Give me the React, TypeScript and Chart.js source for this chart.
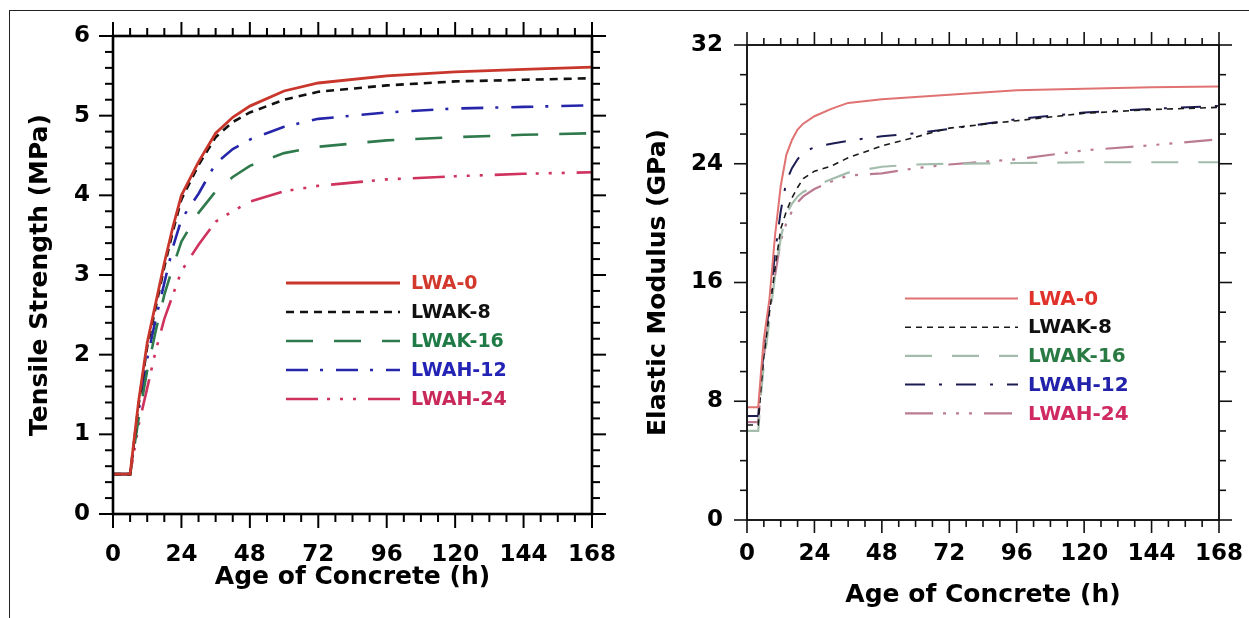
import React, { useEffect, useRef } from "react";
import { Chart, registerables } from "chart.js";

Chart.register(...registerables);

// ---------- DATA ----------
const seriesNames = ["LWA-0", "LWAK-8", "LWAK-16", "LWAH-12", "LWAH-24"];

const hourTicks = [0, 24, 48, 72, 96, 120, 144, 168];
const tensileTicks = [0, 1, 2, 3, 4, 5, 6];
const modulusTicks = [0, 8, 16, 24, 32];

// Tensile strength (MPa) vs age (h)
const tensileHours = [0, 6, 9, 12, 15, 18, 21, 24, 30, 36, 42, 48, 60, 72, 96, 120, 144, 168];
const tensileLWA0 = [0.5, 0.5, 1.42, 2.15, 2.65, 3.15, 3.6, 4.0, 4.42, 4.78, 4.98, 5.12, 5.31, 5.41, 5.5, 5.55, 5.58, 5.61];
const tensileLWAK8 = [0.5, 0.5, 1.38, 2.1, 2.6, 3.1, 3.55, 3.95, 4.38, 4.73, 4.92, 5.04, 5.2, 5.3, 5.38, 5.43, 5.45, 5.47];
const tensileLWAK16 = [0.5, 0.5, 1.2, 1.8, 2.3, 2.75, 3.1, 3.42, 3.78, 4.05, 4.23, 4.37, 4.53, 4.61, 4.69, 4.73, 4.76, 4.78];
const tensileLWAH12 = [0.5, 0.5, 1.3, 1.95, 2.45, 2.9, 3.35, 3.7, 4.02, 4.4, 4.58, 4.7, 4.86, 4.96, 5.04, 5.09, 5.11, 5.13];
const tensileLWAH24 = [0.5, 0.5, 1.12, 1.58, 2.05, 2.45, 2.75, 3.05, 3.38, 3.67, 3.8, 3.92, 4.05, 4.12, 4.2, 4.24, 4.27, 4.29];

// Elastic modulus (GPa) vs age (h)
const modulusHours = [0, 4, 5, 6, 8, 10, 12, 14, 16, 18, 20, 24, 30, 36, 48, 60, 72, 96, 120, 144, 168];
const modulusLWA0 = [7.6, 7.6, 10.0, 12.2, 14.9, 19.2, 22.5, 24.6, 25.6, 26.3, 26.7, 27.2, 27.7, 28.1, 28.35, 28.5, 28.65, 28.95, 29.05, 29.15, 29.2];
const modulusLWAK8 = [6.4, 6.4, 9.0, 11.0, 14.0, 17.0, 19.6, 20.8, 21.7, 22.4, 23.0, 23.5, 23.85, 24.4, 25.2, 25.8, 26.4, 26.9, 27.4, 27.65, 27.8];
const modulusLWAK16 = [6.0, 6.0, 8.5, 10.5, 13.5, 16.5, 19.0, 20.6, 21.3, 21.8, 22.1, 22.5, 22.95, 23.4, 23.8, 23.95, 24.0, 24.05, 24.1, 24.1, 24.1];
const modulusLWAH12 = [7.0, 7.0, 9.5, 11.5, 14.5, 18.0, 20.8, 22.8, 23.7, 24.3, 24.8, 25.1, 25.35, 25.55, 25.85, 26.05, 26.35, 27.0, 27.45, 27.7, 27.9];
const modulusLWAH24 = [6.6, 6.6, 9.0, 11.0, 14.0, 16.5, 18.8, 20.0, 20.8, 21.4, 21.8, 22.3, 22.8, 23.2, 23.35, 23.7, 23.95, 24.3, 24.9, 25.25, 25.65];

// ---------- STYLES ----------
const FONT = "'DejaVu Sans', 'Liberation Sans', sans-serif";

const tensileStyles = [
  { color: "#c8362c", width: 2.8, dash: [] as number[] },
  { color: "#111111", width: 2.6, dash: [8, 6] },
  { color: "#2f7a4c", width: 2.6, dash: [27, 21] },
  { color: "#2626aa", width: 2.6, dash: [22, 12, 3, 13] },
  { color: "#d0325e", width: 2.6, dash: [32, 9, 3, 10, 3, 10, 3, 12] },
];
const tensileTextColors = ["#d2392c", "#111111", "#1f7a45", "#2323b5", "#c8285a"];

const modulusStyles = [
  { color: "#e07272", width: 2, dash: [] as number[] },
  { color: "#1a1a1a", width: 1.6, dash: [6, 5] },
  { color: "#a3bcac", width: 2.2, dash: [27, 20] },
  { color: "#1c1c52", width: 2, dash: [20, 14, 3, 14] },
  { color: "#ba7a92", width: 2.2, dash: [28, 10, 3, 10, 3, 10, 3, 12] },
];
const modulusTextColors = ["#e0322a", "#111111", "#2a7a44", "#2222aa", "#d02a62"];

// ---------- PLUGIN: frame, ticks on all sides, inner legend ----------
const frameLegendPlugin = {
  id: "frameLegend",
  afterDatasetsDraw(chart: any, _args: any, opts: any) {
    const { ctx, chartArea: a, scales } = chart;
    const xs = scales.x;
    const ys = scales.y;
    const line = (x1: number, y1: number, x2: number, y2: number) => {
      ctx.beginPath();
      ctx.moveTo(x1, y1);
      ctx.lineTo(x2, y2);
      ctx.stroke();
    };
    ctx.save();
    ctx.strokeStyle = opts.color;
    ctx.setLineDash([]);
    ctx.lineCap = "butt";
    ctx.lineWidth = opts.tickWidth;
    const nx = Math.round((xs.max - xs.min) / opts.xMinor);
    for (let i = 0; i <= nx; i++) {
      const v = xs.min + i * opts.xMinor;
      const len = i % opts.xRatio === 0 ? opts.majorLen : opts.minorLen;
      const px = xs.getPixelForValue(v);
      line(px, a.top, px, a.top - len);
      line(px, a.bottom, px, a.bottom + len);
    }
    const ny = Math.round((ys.max - ys.min) / opts.yMinor);
    for (let i = 0; i <= ny; i++) {
      const v = ys.min + i * opts.yMinor;
      const len = i % opts.yRatio === 0 ? opts.majorLen : opts.minorLen;
      const py = ys.getPixelForValue(v);
      line(a.left, py, a.left - len, py);
      line(a.right, py, a.right + len, py);
    }
    ctx.lineWidth = opts.frameWidth;
    ctx.strokeRect(a.left, a.top, a.right - a.left, a.bottom - a.top);

    const lg = opts.legend;
    ctx.font = `bold ${lg.fontSize}px ${FONT}`;
    ctx.textBaseline = "middle";
    ctx.textAlign = "left";
    chart.data.datasets.forEach((ds: any, i: number) => {
      const y = lg.y0 + i * lg.dy;
      ctx.strokeStyle = ds.borderColor;
      ctx.lineWidth = ds.borderWidth;
      ctx.setLineDash(ds.borderDash || []);
      line(lg.x1, y, lg.x2, y);
      ctx.setLineDash([]);
      ctx.fillStyle = lg.textColors[i];
      ctx.fillText(ds.label, lg.textX, y + 1);
    });
    ctx.restore();
  },
};

const zeroPad = (s: any) => {
  s.paddingLeft = 0;
  s.paddingRight = 0;
  s.paddingTop = 0;
  s.paddingBottom = 0;
};

function makeConfig(p: any) {
  const datasets = p.values.map((vals: number[], i: number) => ({
    label: seriesNames[i],
    data: p.hours.map((h: number, j: number) => ({ x: h, y: vals[j] })),
    showLine: true,
    pointRadius: 0,
    pointHoverRadius: 0,
    borderColor: p.styles[i].color,
    borderWidth: p.styles[i].width,
    borderDash: p.styles[i].dash,
    fill: false,
    tension: 0,
  }));
  const tickFont = { family: FONT, size: 23, weight: "bold" as const };
  const titleFont = { family: FONT, size: p.titleSize, weight: "bold" as const };
  return {
    type: "scatter" as const,
    data: { datasets },
    options: {
      animation: false,
      responsive: false,
      events: [],
      layout: {
        padding: { left: 0, top: p.area.top, right: p.canvasW - p.area.right, bottom: 0 },
      },
      plugins: {
        legend: { display: false },
        tooltip: { enabled: false },
        frameLegend: p.frame,
      },
      scales: {
        x: {
          type: "linear",
          min: 0,
          max: 168,
          grid: { display: false, drawTicks: false },
          border: { display: false },
          afterBuildTicks: (s: any) => {
            s.ticks = hourTicks.map((v) => ({ value: v }));
          },
          afterFit: (s: any) => {
            s.height = p.canvasH - p.area.bottom;
            zeroPad(s);
          },
          ticks: { font: tickFont, color: "#000", padding: p.xTickPad, maxRotation: 0, autoSkip: false },
          title: {
            display: true,
            text: "Age of Concrete (h)",
            font: titleFont,
            color: "#000",
            padding: { top: 0, bottom: p.xTitlePad },
          },
        },
        y: {
          type: "linear",
          min: 0,
          max: p.yMax,
          grid: { display: false, drawTicks: false },
          border: { display: false },
          afterBuildTicks: (s: any) => {
            s.ticks = p.yTicks.map((v: number) => ({ value: v }));
          },
          afterFit: (s: any) => {
            s.width = p.area.left;
            zeroPad(s);
          },
          ticks: { font: tickFont, color: "#000", padding: p.yTickPad, autoSkip: false },
          title: {
            display: true,
            text: p.yTitle,
            font: titleFont,
            color: "#000",
            padding: { top: p.yTitlePad, bottom: 0 },
          },
        },
      },
    },
    plugins: [frameLegendPlugin],
  };
}

const leftConfig = () =>
  makeConfig({
    hours: tensileHours,
    values: [tensileLWA0, tensileLWAK8, tensileLWAK16, tensileLWAH12, tensileLWAH24],
    styles: tensileStyles,
    yTicks: tensileTicks,
    yMax: 6,
    yTitle: "Tensile Strength (MPa)",
    canvasW: 620,
    canvasH: 618,
    area: { left: 113, right: 592, top: 36, bottom: 514 },
    xTickPad: 27,
    yTickPad: 23,
    titleSize: 25,
    xTitlePad: 26,
    yTitlePad: 25,
    frame: {
      color: "#000",
      tickWidth: 2,
      frameWidth: 2.6,
      majorLen: 14,
      minorLen: 8,
      xMinor: 6,
      xRatio: 4,
      yMinor: 0.2,
      yRatio: 5,
      legend: { x1: 286, x2: 400, textX: 411, y0: 283, dy: 29, fontSize: 19, textColors: tensileTextColors },
    },
  });

const rightConfig = () =>
  makeConfig({
    hours: modulusHours,
    values: [modulusLWA0, modulusLWAK8, modulusLWAK16, modulusLWAH12, modulusLWAH24],
    styles: modulusStyles,
    yTicks: modulusTicks,
    yMax: 32,
    yTitle: "Elastic Modulus (GPa)",
    canvasW: 629,
    canvasH: 618,
    area: { left: 127, right: 599, top: 45, bottom: 520 },
    xTickPad: 20,
    yTickPad: 24,
    titleSize: 25,
    xTitlePad: 8,
    yTitlePad: 23,
    frame: {
      color: "#111",
      tickWidth: 1.6,
      frameWidth: 1.9,
      majorLen: 13,
      minorLen: 7,
      xMinor: 6,
      xRatio: 4,
      yMinor: 2,
      yRatio: 4,
      legend: { x1: 285, x2: 398, textX: 408, y0: 298.5, dy: 28.7, fontSize: 20, textColors: modulusTextColors },
    },
  });

function Panel({ left, width, build }: { left: number; width: number; build: () => any }) {
  const ref = useRef<HTMLCanvasElement>(null);
  useEffect(() => {
    const chart = new Chart(ref.current as HTMLCanvasElement, build());
    return () => chart.destroy();
  }, []);
  return (
    <canvas
      ref={ref}
      width={width}
      height={618}
      style={{ position: "absolute", left, top: 0, width, height: 618, display: "block" }}
    />
  );
}

export default function App() {
  return (
    <div>
      <div
        style={{
          position: "absolute",
          left: 9,
          top: 10,
          width: 1240,
          height: 608,
          boxSizing: "border-box",
          borderTop: "1px solid #222",
          borderLeft: "1px solid #222",
        }}
      />
      <Panel left={0} width={620} build={leftConfig} />
      <Panel left={620} width={629} build={rightConfig} />
    </div>
  );
}
